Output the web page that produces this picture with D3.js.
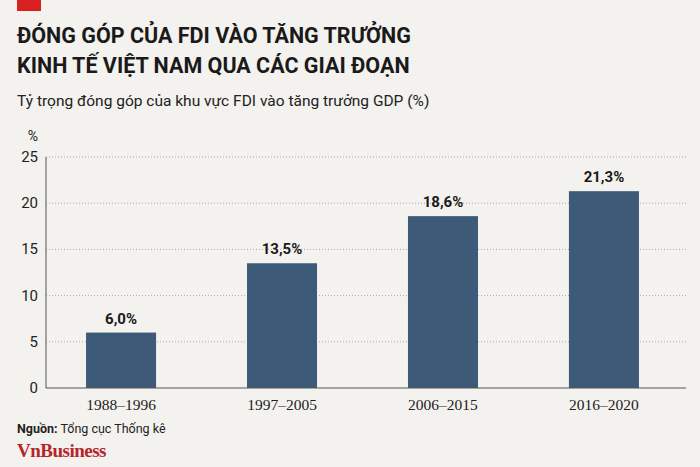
<!DOCTYPE html>
<html><head><meta charset="utf-8">
<script src="https://cdn.jsdelivr.net/npm/d3@7"></script>
<style>body{margin:0;background:#f4f2ee;}</style>
</head><body><div id="chart"></div>
<script>
var periods = ["1988–1996", "1997–2005", "2006–2015", "2016–2020"];
var shares = [6.0, 13.5, 18.6, 21.3];
var yTicks = [0, 5, 10, 15, 20, 25];

var svg = d3.select("#chart").append("svg")
    .attr("width", 700).attr("height", 467)
    .style("background", "#f4f2ee")
    .style("font-family", "Roboto, sans-serif");

svg.append("rect").attr("x", 17).attr("y", 0).attr("width", 24).attr("height", 11).attr("fill", "#d7201f");

svg.append("text").attr("x", 17).attr("y", 43).attr("font-size", "21.5px").attr("font-weight", "bold")
    .attr("fill", "#1a1a1a").text("ĐÓNG GÓP CỦA FDI VÀO TĂNG TRƯỞNG");
svg.append("text").attr("x", 17).attr("y", 73).attr("font-size", "21.5px").attr("font-weight", "bold")
    .attr("fill", "#1a1a1a").text("KINH TẾ VIỆT NAM QUA CÁC GIAI ĐOẠN");
svg.append("text").attr("x", 17).attr("y", 106).attr("font-size", "15.5px")
    .attr("fill", "#222").text("Tỷ trọng đóng góp của khu vực FDI vào tăng trưởng GDP (%)");

var x = d3.scaleBand().domain(periods).range([40.5, 684.5]).paddingInner(0.565).paddingOuter(0.283);
var y = d3.scaleLinear().domain([0, 25]).range([388, 157]);

var g = svg.append("g");
yTicks.forEach(function(t){
    if (t > 0) g.append("line").attr("x1", 46).attr("x2", 686).attr("y1", y(t)).attr("y2", y(t))
        .attr("stroke", "#aaa").attr("stroke-dasharray", "1,2");
    g.append("text").attr("x", 38).attr("y", y(t) + 5).attr("text-anchor", "end")
        .attr("font-size", "15px").attr("fill", "#222").text(t);
});
svg.append("text").attr("x", 33).attr("y", 141).attr("text-anchor", "middle").attr("font-size", "14px").attr("fill", "#222").text("%");

g.selectAll("rect.bar").data(shares).enter().append("rect").attr("class", "bar")
    .attr("x", function(d, i){ return x(periods[i]); })
    .attr("width", x.bandwidth())
    .attr("y", function(d){ return y(d); })
    .attr("height", function(d){ return y(0) - y(d); })
    .attr("fill", "#3d5a78");

g.selectAll("text.val").data(shares).enter().append("text")
    .attr("x", function(d, i){ return x(periods[i]) + x.bandwidth() / 2; })
    .attr("y", function(d){ return y(d) - 9; })
    .attr("text-anchor", "middle").attr("font-size", "15px").attr("font-weight", "bold").attr("fill", "#1a1a1a")
    .text(function(d){ return d.toFixed(1).replace(".", ",") + "%"; });

g.append("line").attr("x1", 46).attr("x2", 46).attr("y1", 157).attr("y2", 388).attr("stroke", "#555");
g.append("line").attr("x1", 46).attr("x2", 686).attr("y1", 388).attr("y2", 388).attr("stroke", "#555");

periods.forEach(function(p){
    g.append("text").attr("x", x(p) + x.bandwidth() / 2).attr("y", 410).attr("text-anchor", "middle")
        .attr("font-family", "'Liberation Serif', serif").attr("font-size", "15.5px").attr("fill", "#222").text(p);
});

var src = svg.append("text").attr("x", 17).attr("y", 433).attr("font-size", "12.5px").attr("fill", "#222");
src.append("tspan").attr("font-weight", "bold").text("Nguồn:");
src.append("tspan").text(" Tổng cục Thống kê");

svg.append("text").attr("x", 17).attr("y", 457).attr("font-family", "'Liberation Serif', serif")
    .attr("font-size", "19px").attr("font-weight", "bold").attr("fill", "#b5262b").attr("letter-spacing", "-0.5").text("VnBusiness");
</script></body></html>
